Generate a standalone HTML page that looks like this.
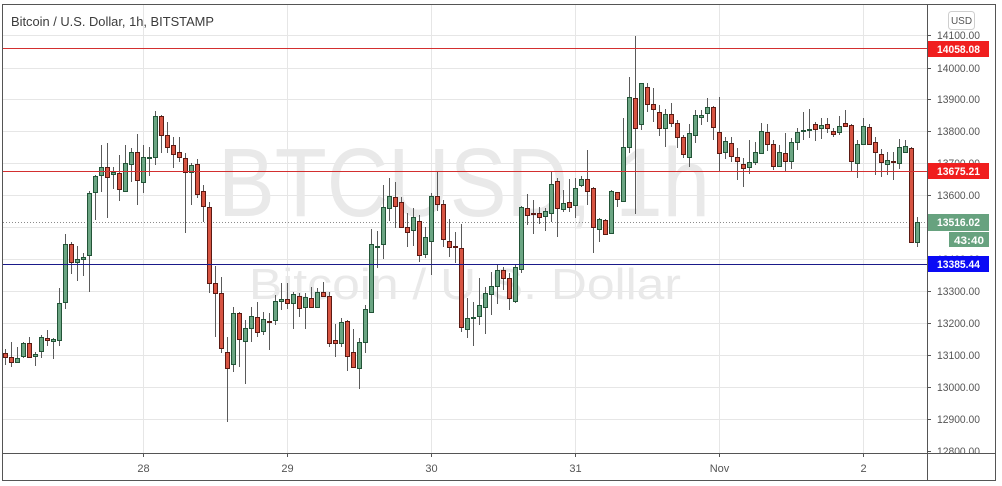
<!DOCTYPE html>
<html><head><meta charset="utf-8"><style>
html,body{margin:0;padding:0;background:#fff;width:1002px;height:486px;overflow:hidden}
svg{display:block}
.t{font-family:"Liberation Sans",sans-serif}
.g rect{fill:#6ba583;stroke:#225437;stroke-width:1}
.r rect{fill:#d75442;stroke:#5b1a13;stroke-width:1}
</style></head><body>
<svg width="1002" height="486" viewBox="0 0 1002 486" xmlns="http://www.w3.org/2000/svg" shape-rendering="crispEdges">
<defs><clipPath id="pa"><rect x="928" y="5" width="67" height="448"/></clipPath></defs>
<rect x="0" y="0" width="1002" height="486" fill="#fff"/>
<!-- grid -->
<g stroke="#e6e6e6" stroke-width="1">
<path d="M3 35.5H927M3 68.5H927M3 99.5H927M3 131.5H927M3 163.5H927M3 195.5H927M3 227.5H927M3 259.5H927M3 291.5H927M3 323.5H927M3 355.5H927M3 387.5H927M3 419.5H927"/>
<path d="M143.5 5V453M287.5 5V453M431.5 5V453M575.5 5V453M719.5 5V453M863.5 5V453"/>
</g>
<!-- watermark -->
<g class="t" fill="#e9e9e9" shape-rendering="auto">
<text x="218" y="216" font-size="97" textLength="492" lengthAdjust="spacingAndGlyphs">BTCUSD, 1h</text>
<text x="249" y="299" font-size="44" textLength="432" lengthAdjust="spacingAndGlyphs">Bitcoin / U.S. Dollar</text>
</g>
<!-- title -->
<text class="t" x="11" y="26" font-size="13" fill="#3c3c3c" textLength="203" lengthAdjust="spacingAndGlyphs" shape-rendering="auto">Bitcoin / U.S. Dollar, 1h, BITSTAMP</text>
<!-- current price dotted -->
<path d="M3 222.5H927" stroke="#8a8a8a" stroke-width="1" stroke-dasharray="1 2"/>
<!-- wicks -->
<path stroke="#5a5a5a" stroke-width="1" fill="none" d="M5.5 349V365M11.5 342V367M17.5 347V363M23.5 342V358M29.5 337V358M35.5 352V366M41.5 335V358M47.5 330V346M53.5 338V359M59.5 288V346M65.5 234V309M71.5 242V274M77.5 246V281M83.5 253V276M89.5 191V292M95.5 175V220M101.5 145V192M107.5 143V218M113.5 167V189M119.5 155V201M125.5 145V192M131.5 148V182M137.5 134V205M143.5 145V193M149.5 147V176M155.5 111V165M161.5 115V153M167.5 122V153M173.5 137V168M179.5 137V162M185.5 153V233M191.5 163V205M197.5 159V198M203.5 185V222M209.5 202V293M215.5 266V337M221.5 277V353M227.5 337V422M233.5 307V372M239.5 312V367M245.5 320V384M251.5 307V342M257.5 302V337M263.5 312V335M269.5 313V350M275.5 295V325M281.5 283V310M287.5 283V309M293.5 292V329M299.5 293V317M305.5 293V329M311.5 287V308M317.5 288V308M323.5 282V297M329.5 292V347M335.5 324V357M341.5 318V347M347.5 320V371M353.5 329V368M359.5 338V389M365.5 305V353M371.5 229V312M377.5 231V268M383.5 185V259M389.5 178V221M395.5 182V228M401.5 197V228M407.5 213V247M413.5 208V246M419.5 215V262M425.5 227V258M431.5 193V275M437.5 172V211M443.5 200V247M449.5 219V257M455.5 232V263M461.5 224V332M467.5 298V338M473.5 302V346M479.5 278V325M485.5 287V334M491.5 272V315M497.5 265V304M503.5 267V290M509.5 273V310M515.5 265V303M521.5 206V273M527.5 194V225M533.5 200V234M539.5 207V224M545.5 208V231M551.5 172V222M557.5 178V237M563.5 190V212M569.5 179V212M575.5 178V218M581.5 176V187M587.5 150V205M593.5 187V253M599.5 218V242M605.5 219V235M611.5 190V234M617.5 192V207M623.5 118V202M629.5 77V153M635.5 36V214M641.5 83V130M647.5 83V112M653.5 88V122M659.5 105V136M665.5 109V147M671.5 103V127M677.5 120V148M683.5 135V158M689.5 124V167M695.5 110V143M701.5 110V125M707.5 98V122M713.5 106V140M719.5 97V172M725.5 137V159M731.5 137V162M737.5 148V180M743.5 158V187M749.5 140V174M755.5 142V165M761.5 123V154M767.5 124V151M773.5 140V170M779.5 145V167M785.5 133V171M791.5 138V169M797.5 128V150M803.5 112V140M809.5 109V138M815.5 122V141M821.5 118V139M827.5 118V133M833.5 128V137M839.5 116V135M845.5 110V127M851.5 124V171M857.5 140V178M863.5 118V145M869.5 124V145M875.5 137V175M881.5 149V177M887.5 152V175M893.5 152V180M899.5 139V169M905.5 140V153M911.5 147V243M917.5 217V247"/>
<!-- green bodies -->
<g class="g">
<rect x="15.5" y="358.5" width="4" height="4"/><rect x="21.5" y="343.5" width="4" height="13"/><rect x="33.5" y="354.5" width="4" height="2"/><rect x="39.5" y="337.5" width="4" height="14"/><rect x="51.5" y="339.5" width="4" height="2"/><rect x="57.5" y="303.5" width="4" height="37"/><rect x="63.5" y="244.5" width="4" height="58"/><rect x="75.5" y="259.5" width="4" height="3"/><rect x="81.5" y="257.5" width="4" height="2"/><rect x="87.5" y="193.5" width="4" height="62"/><rect x="93.5" y="176.5" width="4" height="16"/><rect x="99.5" y="167.5" width="4" height="8"/><rect x="111.5" y="172.5" width="4" height="2"/><rect x="123.5" y="163.5" width="4" height="28"/><rect x="129.5" y="152.5" width="4" height="12"/><rect x="141.5" y="157.5" width="4" height="25"/><rect x="147.5" y="157.5" width="4" height="1"/><rect x="153.5" y="116.5" width="4" height="41"/>
<rect x="189.5" y="165.5" width="4" height="7"/><rect x="231.5" y="313.5" width="4" height="51"/><rect x="243.5" y="328.5" width="4" height="13"/><rect x="249.5" y="316.5" width="4" height="12"/><rect x="261.5" y="319.5" width="4" height="12"/><rect x="273.5" y="301.5" width="4" height="19"/><rect x="279.5" y="299.5" width="4" height="2"/><rect x="291.5" y="294.5" width="4" height="9"/><rect x="303.5" y="297.5" width="4" height="10"/>
<rect x="315.5" y="292.5" width="4" height="15"/><rect x="339.5" y="322.5" width="4" height="21"/><rect x="357.5" y="342.5" width="4" height="26"/><rect x="363.5" y="309.5" width="4" height="33"/><rect x="369.5" y="244.5" width="4" height="68"/><rect x="375.5" y="246.5" width="4" height="1"/><rect x="381.5" y="207.5" width="4" height="37"/><rect x="387.5" y="196.5" width="4" height="12"/><rect x="411.5" y="217.5" width="4" height="13"/><rect x="423.5" y="237.5" width="4" height="17"/><rect x="429.5" y="196.5" width="4" height="45"/>
<rect x="465.5" y="318.5" width="4" height="11"/><rect x="471.5" y="317.5" width="4" height="1"/><rect x="477.5" y="305.5" width="4" height="11"/><rect x="483.5" y="293.5" width="4" height="14"/><rect x="489.5" y="286.5" width="4" height="8"/><rect x="495.5" y="270.5" width="4" height="16"/><rect x="513.5" y="267.5" width="4" height="34"/><rect x="519.5" y="207.5" width="4" height="62"/><rect x="543.5" y="211.5" width="4" height="5"/><rect x="549.5" y="184.5" width="4" height="29"/><rect x="561.5" y="203.5" width="4" height="6"/><rect x="573.5" y="188.5" width="4" height="17"/><rect x="579.5" y="179.5" width="4" height="6"/><rect x="597.5" y="219.5" width="4" height="10"/><rect x="609.5" y="191.5" width="4" height="42"/>
<rect x="621.5" y="147.5" width="4" height="54"/><rect x="627.5" y="97.5" width="4" height="50"/><rect x="639.5" y="83.5" width="4" height="41"/><rect x="663.5" y="114.5" width="4" height="14"/><rect x="687.5" y="133.5" width="4" height="24"/><rect x="693.5" y="115.5" width="4" height="20"/><rect x="699.5" y="115.5" width="4" height="2"/><rect x="705.5" y="107.5" width="4" height="6"/><rect x="723.5" y="141.5" width="4" height="11"/><rect x="747.5" y="162.5" width="4" height="5"/><rect x="753.5" y="152.5" width="4" height="10"/>
<rect x="759.5" y="131.5" width="4" height="22"/><rect x="777.5" y="152.5" width="4" height="14"/><rect x="789.5" y="142.5" width="4" height="19"/><rect x="795.5" y="132.5" width="4" height="10"/><rect x="801.5" y="130.5" width="4" height="1"/><rect x="807.5" y="129.5" width="4" height="1"/><rect x="819.5" y="125.5" width="4" height="3"/><rect x="837.5" y="126.5" width="4" height="6"/><rect x="855.5" y="144.5" width="4" height="19"/><rect x="861.5" y="126.5" width="4" height="18"/><rect x="885.5" y="160.5" width="4" height="4"/><rect x="897.5" y="147.5" width="4" height="16"/><rect x="903.5" y="146.5" width="4" height="6"/><rect x="915.5" y="222.5" width="4" height="20"/>
</g>
<!-- red bodies -->
<g class="r">
<rect x="3.5" y="353.5" width="4" height="4"/><rect x="9.5" y="357.5" width="4" height="5"/><rect x="27.5" y="343.5" width="4" height="14"/><rect x="45.5" y="338.5" width="4" height="2"/><rect x="69.5" y="244.5" width="4" height="18"/><rect x="105.5" y="167.5" width="4" height="10"/><rect x="117.5" y="173.5" width="4" height="16"/><rect x="135.5" y="152.5" width="4" height="28"/>
<rect x="159.5" y="116.5" width="4" height="19"/><rect x="165.5" y="135.5" width="4" height="12"/><rect x="171.5" y="145.5" width="4" height="9"/><rect x="177.5" y="152.5" width="4" height="5"/><rect x="183.5" y="158.5" width="4" height="14"/><rect x="195.5" y="164.5" width="4" height="30"/><rect x="201.5" y="191.5" width="4" height="15"/><rect x="207.5" y="207.5" width="4" height="76"/><rect x="213.5" y="283.5" width="4" height="10"/><rect x="219.5" y="293.5" width="4" height="55"/><rect x="225.5" y="352.5" width="4" height="16"/><rect x="237.5" y="313.5" width="4" height="26"/><rect x="255.5" y="317.5" width="4" height="15"/><rect x="267.5" y="321.5" width="4" height="1"/><rect x="285.5" y="299.5" width="4" height="4"/><rect x="297.5" y="296.5" width="4" height="12"/>
<rect x="309.5" y="298.5" width="4" height="9"/><rect x="321.5" y="292.5" width="4" height="4"/><rect x="327.5" y="296.5" width="4" height="47"/><rect x="333.5" y="340.5" width="4" height="3"/><rect x="345.5" y="321.5" width="4" height="35"/><rect x="351.5" y="352.5" width="4" height="15"/><rect x="393.5" y="197.5" width="4" height="9"/><rect x="399.5" y="202.5" width="4" height="25"/><rect x="405.5" y="227.5" width="4" height="5"/><rect x="417.5" y="221.5" width="4" height="34"/><rect x="435.5" y="196.5" width="4" height="8"/><rect x="441.5" y="204.5" width="4" height="35"/><rect x="447.5" y="241.5" width="4" height="6"/><rect x="453.5" y="246.5" width="4" height="1"/>
<rect x="459.5" y="248.5" width="4" height="79"/><rect x="501.5" y="270.5" width="4" height="8"/><rect x="507.5" y="278.5" width="4" height="20"/><rect x="525.5" y="208.5" width="4" height="7"/><rect x="531.5" y="213.5" width="4" height="1"/><rect x="537.5" y="213.5" width="4" height="4"/><rect x="555.5" y="181.5" width="4" height="27"/><rect x="567.5" y="202.5" width="4" height="5"/><rect x="585.5" y="179.5" width="4" height="12"/><rect x="591.5" y="188.5" width="4" height="39"/><rect x="603.5" y="220.5" width="4" height="14"/>
<rect x="615.5" y="192.5" width="4" height="7"/><rect x="633.5" y="98.5" width="4" height="30"/><rect x="645.5" y="87.5" width="4" height="17"/><rect x="651.5" y="104.5" width="4" height="5"/><rect x="657.5" y="112.5" width="4" height="16"/><rect x="669.5" y="114.5" width="4" height="9"/><rect x="675.5" y="123.5" width="4" height="14"/><rect x="681.5" y="137.5" width="4" height="17"/><rect x="711.5" y="107.5" width="4" height="20"/><rect x="717.5" y="132.5" width="4" height="21"/><rect x="729.5" y="143.5" width="4" height="13"/><rect x="735.5" y="157.5" width="4" height="4"/><rect x="741.5" y="164.5" width="4" height="4"/>
<rect x="765.5" y="132.5" width="4" height="12"/><rect x="771.5" y="144.5" width="4" height="22"/><rect x="783.5" y="153.5" width="4" height="8"/><rect x="813.5" y="124.5" width="4" height="5"/><rect x="825.5" y="124.5" width="4" height="4"/><rect x="831.5" y="131.5" width="4" height="3"/><rect x="843.5" y="123.5" width="4" height="3"/><rect x="849.5" y="125.5" width="4" height="36"/><rect x="867.5" y="127.5" width="4" height="17"/><rect x="873.5" y="142.5" width="4" height="10"/><rect x="879.5" y="154.5" width="4" height="8"/><rect x="891.5" y="161.5" width="4" height="1"/><rect x="909.5" y="148.5" width="4" height="94"/>
</g>
<!-- horizontal levels -->
<path d="M3 48.5H927M3 171.5H927" stroke="#d32f2f" stroke-width="1"/>
<path d="M3 264.5H927" stroke="#1a1a8a" stroke-width="1"/>
<!-- frame -->
<g stroke="#555" stroke-width="1" fill="none">
<rect x="2.5" y="4.5" width="993" height="476"/>
<path d="M927.5 4V481M2 453.5H996"/>
<path d="M927 35.5H931M927 68.5H931M927 99.5H931M927 131.5H931M927 163.5H931M927 195.5H931M927 227.5H931M927 259.5H931M927 291.5H931M927 323.5H931M927 355.5H931M927 387.5H931M927 419.5H931M927 451.5H931"/>
<path d="M143.5 453V457M287.5 453V457M431.5 453V457M575.5 453V457M719.5 453V457M863.5 453V457"/>
</g>
<!-- price labels -->
<g class="t" font-size="11" fill="#555" clip-path="url(#pa)" shape-rendering="auto">
<text x="937" y="39" textLength="43" lengthAdjust="spacingAndGlyphs">14100.00</text>
<text x="937" y="72" textLength="43" lengthAdjust="spacingAndGlyphs">14000.00</text>
<text x="937" y="103" textLength="43" lengthAdjust="spacingAndGlyphs">13900.00</text>
<text x="937" y="135" textLength="43" lengthAdjust="spacingAndGlyphs">13800.00</text>
<text x="937" y="167" textLength="43" lengthAdjust="spacingAndGlyphs">13700.00</text>
<text x="937" y="199" textLength="43" lengthAdjust="spacingAndGlyphs">13600.00</text>
<text x="937" y="231" textLength="43" lengthAdjust="spacingAndGlyphs">13500.00</text>
<text x="937" y="263" textLength="43" lengthAdjust="spacingAndGlyphs">13400.00</text>
<text x="937" y="295" textLength="43" lengthAdjust="spacingAndGlyphs">13300.00</text>
<text x="937" y="327" textLength="43" lengthAdjust="spacingAndGlyphs">13200.00</text>
<text x="937" y="359" textLength="43" lengthAdjust="spacingAndGlyphs">13100.00</text>
<text x="937" y="391" textLength="43" lengthAdjust="spacingAndGlyphs">13000.00</text>
<text x="937" y="423" textLength="43" lengthAdjust="spacingAndGlyphs">12900.00</text>
<text x="937" y="455" textLength="43" lengthAdjust="spacingAndGlyphs">12800.00</text>
</g>
<!-- price boxes -->
<rect x="928" y="41" width="61" height="16" fill="#f01e1e"/>
<rect x="928" y="163" width="61" height="16" fill="#f01e1e"/>
<rect x="928" y="214" width="61" height="17" fill="#67a27f"/>
<rect x="949" y="232" width="40" height="15" fill="#67a27f"/>
<rect x="928" y="256" width="61" height="16" fill="#0a0af5"/>
<g class="t" font-size="11" font-weight="bold" fill="#fff" shape-rendering="auto">
<text x="937" y="53" textLength="43" lengthAdjust="spacingAndGlyphs">14058.08</text>
<text x="937" y="175" textLength="43" lengthAdjust="spacingAndGlyphs">13675.21</text>
<text x="937" y="226" textLength="43" lengthAdjust="spacingAndGlyphs">13516.02</text>
<text x="954" y="244" textLength="30" lengthAdjust="spacingAndGlyphs">43:40</text>
<text x="937" y="268" textLength="43" lengthAdjust="spacingAndGlyphs">13385.44</text>
</g>
<!-- USD button -->
<rect x="948.5" y="11.5" width="26" height="18" rx="3" fill="#fff" stroke="#cfcfcf" stroke-width="1" shape-rendering="auto"/>
<text class="t" x="961.5" y="24" font-size="10" fill="#555" text-anchor="middle" shape-rendering="auto">USD</text>
<!-- time labels -->
<g class="t" font-size="11" fill="#555" text-anchor="middle" shape-rendering="auto">
<text x="143.5" y="472">28</text>
<text x="287.5" y="472">29</text>
<text x="431.5" y="472">30</text>
<text x="575.5" y="472">31</text>
<text x="719.5" y="472">Nov</text>
<text x="863.5" y="472">2</text>
</g>
</svg>
</body></html>
